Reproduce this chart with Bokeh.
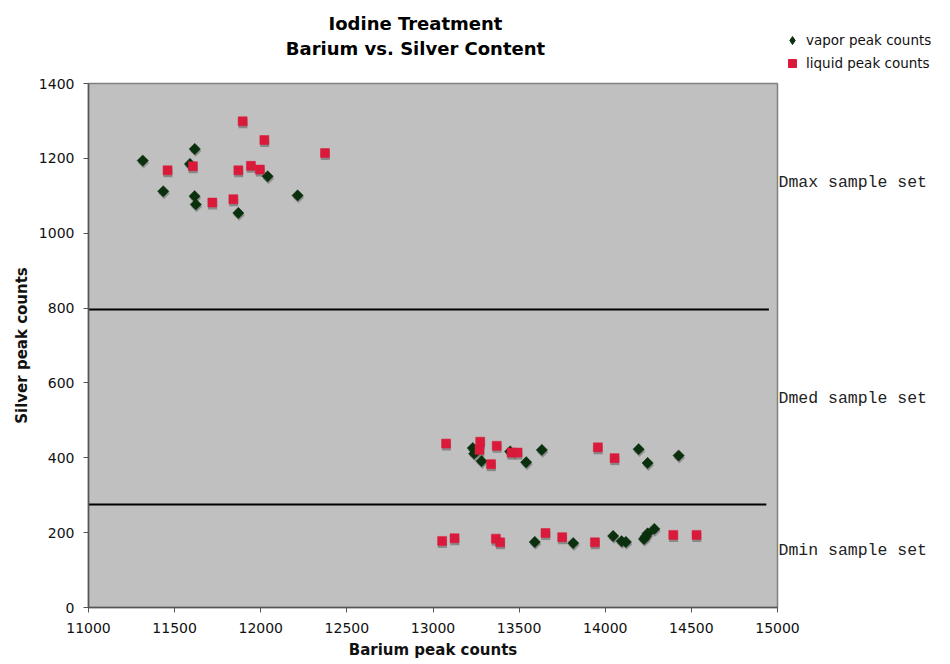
from bokeh.plotting import figure
from bokeh.models import Range1d, LinearAxis, FixedTicker, Legend, LegendItem, Label
from bokeh.layouts import column, row
from bokeh.embed import file_html
from bokeh.resources import INLINE

# ---- data ----
vapor_x = [11315, 11617, 11589, 11434, 11616, 11623, 11870, 12040, 12214,
           13231, 13239, 13282, 13448, 13541, 13632, 14194, 14246, 14426,
           13591, 13814, 14046, 14095, 14120, 14225, 14235, 14246, 14285]
vapor_y = [1194, 1225, 1185, 1112, 1099, 1077, 1054, 1152, 1101,
           426, 411, 391, 417, 388, 421, 423, 386, 406,
           175, 172, 191, 177, 175, 183, 190, 198, 210]

liquid_x = [11895, 12021, 12373, 11459, 11606, 11870, 11943, 11995, 11719, 11841,
            13076, 13274, 13270, 13370, 13337, 13456, 13491, 13957, 14054,
            13053, 13125, 13365, 13390, 13653, 13750, 13940, 14395, 14530]
liquid_y = [1299, 1249, 1214, 1168, 1179, 1168, 1180, 1170, 1082, 1091,
            438, 443, 421, 432, 383, 414, 414, 428, 399,
            178, 185, 184, 174, 199, 188, 174, 194, 194]

divider_y = [796, 275]
divider_x_end = [14950, 14935]

set_names = ["Dmax sample set", "Dmed sample set", "Dmin sample set"]
set_label_y = [1136, 558, 152]

title_lines = ["Iodine Treatment", "Barium vs. Silver Content"]
series_names = ["vapor peak counts", "liquid peak counts"]

x_ticks = [11000, 11500, 12000, 12500, 13000, 13500, 14000, 14500, 15000]
y_ticks = [0, 200, 400, 600, 800, 1000, 1200, 1400]

X0, X1, Y0, Y1 = 11000, 15000, 0, 1400
TOTAL_W = 934
LEFT_B = 88
FRAME_W, FRAME_H = 689, 524
RIGHT_B = TOTAL_W - LEFT_B - FRAME_W
HEAD_H = 73
TITLE_W = 782
MAIN_H = 589
MAIN_TOP = 10

VAPOR_COLOR = "#0B300D"
LIQUID_COLOR = "#DA1A3A"
DIAMOND = 0.785398


def blank(fig):
    fig.outline_line_color = None
    fig.background_fill_color = "white"
    fig.border_fill_color = "white"
    fig.xgrid.visible = False
    fig.ygrid.visible = False


# ---------------- header: titles ----------------
title_fig = figure(width=TITLE_W, height=HEAD_H,
                   x_range=Range1d(0, TITLE_W), y_range=Range1d(HEAD_H, 0),
                   x_axis_type=None, y_axis_type=None,
                   output_backend="svg", toolbar_location=None,
                   min_border=0, title=None)
blank(title_fig)
for txt, ty in zip(title_lines, [23, 48]):
    title_fig.add_layout(Label(x=415, y=ty, text=txt, text_align="center",
                               text_baseline="middle", text_font="DejaVu Sans",
                               text_font_size="18px", text_font_style="bold",
                               text_color="black"))

# ---------------- header: legend ----------------
legend_fig = figure(width=TOTAL_W - TITLE_W, height=HEAD_H,
                    x_range=Range1d(0, 1), y_range=Range1d(0, 1),
                    x_axis_type=None, y_axis_type=None,
                    output_backend="svg", toolbar_location=None,
                    min_border=0, title=None)
blank(legend_fig)
# legend proxies use the same data; it lies outside this tiny figure's ranges
vap_proxy = legend_fig.scatter(vapor_x, vapor_y, marker="diamond", size=12,
                               fill_color=VAPOR_COLOR, line_color=VAPOR_COLOR)
liq_proxy = legend_fig.scatter(liquid_x, liquid_y, marker="square", size=8,
                               fill_color=LIQUID_COLOR, line_color=LIQUID_COLOR)
legend = Legend(items=[LegendItem(label=series_names[0], renderers=[vap_proxy]),
                       LegendItem(label=series_names[1], renderers=[liq_proxy])],
                location="bottom_left", orientation="vertical",
                background_fill_alpha=0, border_line_color=None,
                label_text_font="DejaVu Sans", label_text_font_size="13.5px",
                label_text_color="#111111",
                glyph_width=20, glyph_height=20, label_height=20,
                spacing=3, padding=1, margin=0, label_standoff=4)
legend_fig.add_layout(legend, "center")

# ---------------- main chart ----------------
p = figure(width=TOTAL_W, height=MAIN_H,
           x_range=Range1d(X0, X1), y_range=Range1d(Y0, Y1),
           output_backend="svg", toolbar_location=None, title=None,
           min_border_left=LEFT_B, min_border_right=RIGHT_B,
           min_border_top=MAIN_TOP, min_border_bottom=MAIN_H - MAIN_TOP - FRAME_H)

p.background_fill_color = "#C0C0C0"
p.border_fill_color = "white"
p.outline_line_color = "#808080"
p.outline_line_width = 1.5
p.xgrid.visible = False
p.ygrid.visible = False

for ax in (p.xaxis[0], p.yaxis[0]):
    ax.axis_line_color = "#555555"
    ax.axis_line_width = 1.5
    ax.major_tick_line_color = "#555555"
    ax.major_tick_in = 0
    ax.major_tick_out = 5
    ax.minor_tick_line_color = None
    ax.major_label_text_font = "DejaVu Sans"
    ax.major_label_text_font_size = "14px"
    ax.major_label_text_color = "#111111"
    ax.axis_label_text_font = "DejaVu Sans"
    ax.axis_label_text_font_size = "15px"
    ax.axis_label_text_font_style = "bold"
    ax.axis_label_text_color = "#111111"

p.xaxis.ticker = FixedTicker(ticks=x_ticks)
p.yaxis.ticker = FixedTicker(ticks=y_ticks)
p.xaxis.axis_label = "Barium peak counts"
p.yaxis.axis_label = "Silver peak counts"
p.xaxis.major_label_standoff = 10
p.xaxis.axis_label_standoff = 5
p.yaxis.major_label_standoff = 9
p.yaxis.axis_label_standoff = 5

# right-side set labels
rax = LinearAxis(ticker=FixedTicker(ticks=set_label_y),
                 major_label_overrides={yv: name for yv, name in zip(set_label_y, set_names)},
                 axis_line_color=None, major_tick_line_color=None,
                 major_tick_in=0, major_tick_out=0,
                 minor_tick_line_color=None, minor_tick_in=0, minor_tick_out=0,
                 major_label_standoff=1,
                 major_label_text_font="Liberation Mono",
                 major_label_text_font_size="16.5px",
                 major_label_text_color="#222222")
p.add_layout(rax, "right")

# divider lines
p.segment(x0=[X0] * len(divider_y), x1=divider_x_end, y0=divider_y, y1=divider_y,
          line_color="black", line_width=2)

# drop shadows (offset by a few screen pixels, converted to data units)
ux = (X1 - X0) / FRAME_W
uy = (Y1 - Y0) / FRAME_H
p.scatter([v + 0.8 * ux for v in vapor_x], [v - 2.2 * uy for v in vapor_y],
          marker="square", angle=DIAMOND, size=8, fill_color="#7a7a7a",
          line_color=None, fill_alpha=0.7)
p.scatter([v + 0.3 * ux for v in liquid_x], [v - 2.5 * uy for v in liquid_y],
          marker="square", size=9, fill_color="#7a7a7a",
          line_color=None, fill_alpha=0.8)

p.scatter(vapor_x, vapor_y, marker="square", angle=DIAMOND, size=8,
          fill_color=VAPOR_COLOR, line_color=VAPOR_COLOR, line_width=0.5)
p.scatter(liquid_x, liquid_y, marker="square", size=9,
          fill_color=LIQUID_COLOR, line_color=LIQUID_COLOR, line_width=0.5)

layout = column(row(title_fig, legend_fig, spacing=0), p, spacing=0)
open("out.html", "w").write(file_html(layout, INLINE))
